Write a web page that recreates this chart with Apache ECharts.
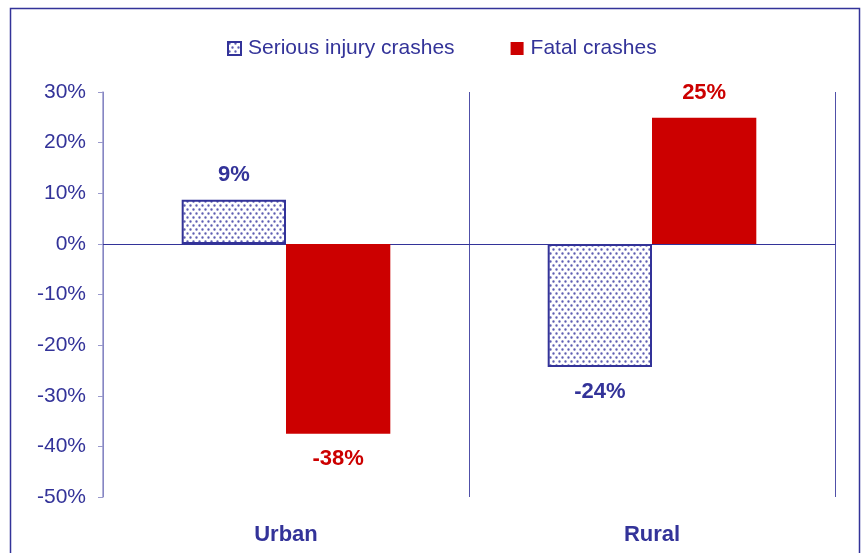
<!DOCTYPE html>
<html>
<head>
<meta charset="utf-8">
<script src="https://cdn.jsdelivr.net/npm/echarts@6/dist/echarts.min.js"></script>
<style>
  html, body { margin: 0; padding: 0; background: #fff; }
  #main { width: 867px; height: 553px; }
</style>
</head>
<body>
<div id="main"></div>
<script>
// chart data
var categories = ['Urban', 'Rural'];
var seriesNames = ['Serious injury crashes', 'Fatal crashes'];
var seriousValues = [8.7, -24.3];
var fatalValues = [-37.5, 24.9];
var seriousLabels = ['9%', '-24%'];
var fatalLabels = ['-38%', '25%'];
var yMin = -50, yMax = 30, yStep = 10;

var blue = '#333399';
var red = '#cc0000';
var font = 'Liberation Sans, Arial, sans-serif';

// dotted fill like the excel pattern
function makeDots() {
  var c = document.createElement('canvas');
  c.width = 6; c.height = 8;
  var ctx = c.getContext('2d');
  ctx.fillStyle = '#ffffff';
  ctx.fillRect(0, 0, 6, 8);
  ctx.fillStyle = '#5e5eb2';
  ctx.beginPath();
  ctx.arc(1.5, 1.5, 1.2, 0, Math.PI * 2);
  ctx.arc(4.5, 5.5, 1.2, 0, Math.PI * 2);
  ctx.fill();
  return c;
}
var dots = { image: makeDots(), repeat: 'repeat' };

function labelFor(arr, color) {
  return {
    show: true,
    distance: 14,
    color: color,
    fontFamily: font,
    fontSize: 22,
    fontWeight: 'bold',
    formatter: function (p) { return arr[p.dataIndex]; }
  };
}

function toData(vals) {
  return vals.map(function (v) {
    return { value: v, label: { position: v >= 0 ? 'top' : 'bottom' } };
  });
}

var myChart = echarts.init(document.getElementById('main'));
var option = {
  backgroundColor: '#ffffff',
  animation: false,
  graphic: [{
    type: 'rect',
    shape: { x: 10.5, y: 8.5, width: 849, height: 560 },
    style: { fill: 'none', stroke: blue, lineWidth: 1.5 },
    silent: true
  }],
  legend: {
    top: 33,
    left: 222,
    icon: 'rect',
    itemWidth: 13,
    itemHeight: 13,
    itemGap: 56,
    textStyle: { color: blue, fontFamily: font, fontSize: 21, padding: [0, 0, 0, 2] },
    data: seriesNames
  },
  grid: { left: 103, right: 32, top: 92, bottom: 56 },
  xAxis: [{
    type: 'category',
    data: categories,
    axisLine: { onZero: true, lineStyle: { color: blue, width: 1 } },
    axisTick: { show: false },
    axisLabel: { show: false },
    splitLine: { show: false }
  }, {
    type: 'category',
    position: 'bottom',
    data: categories,
    axisLine: { show: false, onZero: false },
    axisTick: { show: false },
    axisLabel: {
      margin: 27,
      color: blue,
      fontFamily: font,
      fontSize: 22,
      fontWeight: 'bold'
    },
    splitLine: { show: true, lineStyle: { color: '#5050a8', width: 1 } }
  }],
  yAxis: {
    type: 'value',
    min: yMin,
    max: yMax,
    interval: yStep,
    axisLine: { show: true, lineStyle: { color: '#9999cc', width: 1.5 } },
    axisTick: { show: true, length: 5, lineStyle: { color: '#9999cc' } },
    axisLabel: {
      margin: 17,
      color: blue,
      fontFamily: font,
      fontSize: 21,
      formatter: '{value}%'
    },
    splitLine: { show: false }
  },
  series: [{
    name: seriesNames[0],
    type: 'bar',
    xAxisIndex: 0,
    data: toData(seriousValues),
    barGap: '0%',
    barCategoryGap: '43%',
    itemStyle: { color: dots, borderColor: blue, borderWidth: 2 },
    label: labelFor(seriousLabels, blue)
  }, {
    name: seriesNames[1],
    type: 'bar',
    xAxisIndex: 0,
    data: toData(fatalValues),
    barGap: '0%',
    barCategoryGap: '43%',
    itemStyle: { color: red },
    label: labelFor(fatalLabels, red)
  }]
};
myChart.setOption(option);
</script>
</body>
</html>
